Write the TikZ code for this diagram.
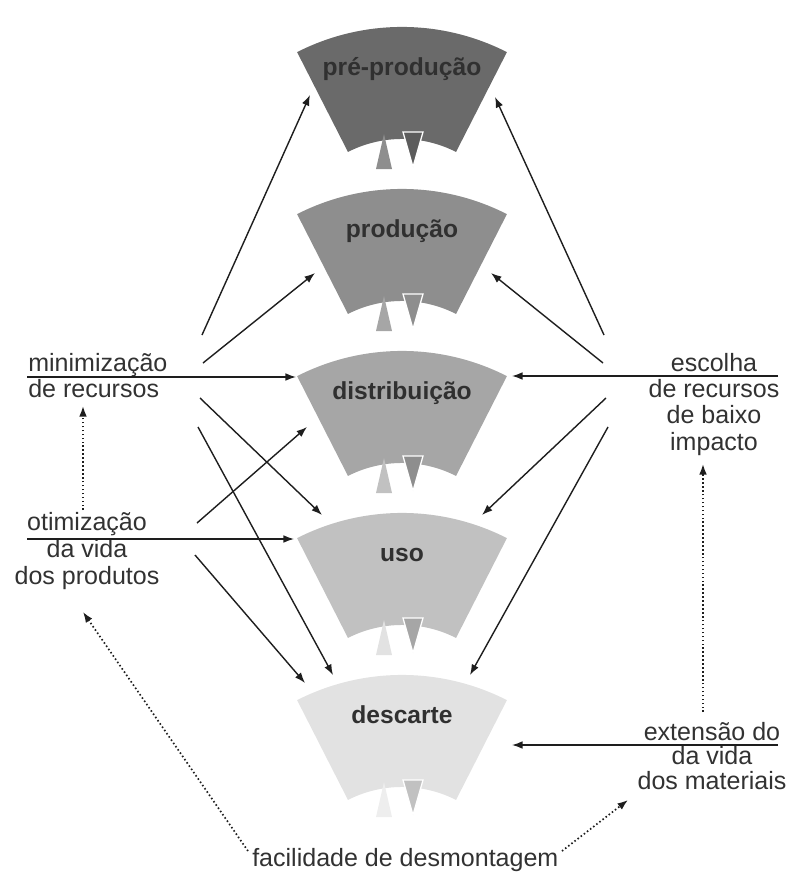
\documentclass[tikz,border=0pt]{standalone}
\usepackage{fontspec}
\setmainfont{Liberation Sans}
\usetikzlibrary{arrows.meta,calc}
\definecolor{segA}{RGB}{106,106,106}
\definecolor{segAdark}{RGB}{92,92,92}
\definecolor{segB}{RGB}{142,142,142}
\definecolor{segC}{RGB}{166,166,166}
\definecolor{segD}{RGB}{193,193,193}
\definecolor{segE}{RGB}{226,226,226}
\definecolor{segF}{RGB}{238,238,238}
\definecolor{labelgray}{RGB}{48,48,48}
\definecolor{textgray}{RGB}{50,50,50}
\definecolor{linegray}{RGB}{30,30,30}
\begin{document}
\begin{tikzpicture}[x=0.025cm,y=-0.025cm,
    seglabel/.style={font=\fontsize{17.5}{20}\selectfont\bfseries, text=labelgray, inner sep=0pt},
    sidetext/.style={font=\fontsize{17.8}{17.8}\selectfont, text=textgray, inner sep=0pt, align=center},
    flow/.style={line width=1pt, draw=linegray, -{Latex[length=7.5pt,width=5.5pt]}},
    hint/.style={flow, line width=1.2pt, dash pattern=on 1.1pt off 1.7pt},
    dntri/.style={draw=white, line width=0.9pt}]
                \useasboundingbox (0.000000,0.000000) rectangle (792.000000,874.000000);
                {
                
                % Drawing sector pre-producao
                \fill [segA] ($(402.000000,258.000000)+(117:5.775cm)$) arc [start angle=117, end angle=63, radius=5.775cm] -- ($(402.000000,258.000000)+(63:2.975cm)$) arc [start angle=63, end angle=117, radius=2.975cm] -- cycle;%
                \fill [segB] (384.000000,134.000000) -- (392.000000,169.000000) -- (376.000000,169.000000) -- cycle;%
                \filldraw [dntri, fill=segAdark] (403.000000,132.000000) -- (423.000000,132.000000) -- (413.000000,167.000000) -- cycle;%
                \draw (402.000000,75.000000) node [seglabel, anchor=base] (pre) {pré-produção};%
                
                % Drawing sector producao
                \fill [segB] ($(402.000000,420.000000)+(117:5.775cm)$) arc [start angle=117, end angle=63, radius=5.775cm] -- ($(402.000000,420.000000)+(63:2.975cm)$) arc [start angle=63, end angle=117, radius=2.975cm] -- cycle;%
                \fill [segC] (384.000000,296.000000) -- (392.000000,331.000000) -- (376.000000,331.000000) -- cycle;%
                \filldraw [dntri, fill=segB] (403.000000,294.000000) -- (423.000000,294.000000) -- (413.000000,329.000000) -- cycle;%
                \draw (402.000000,237.000000) node [seglabel, anchor=base] (prod) {produção};%
                
                % Drawing sector distribuicao
                \fill [segC] ($(402.000000,582.000000)+(117:5.775cm)$) arc [start angle=117, end angle=63, radius=5.775cm] -- ($(402.000000,582.000000)+(63:2.975cm)$) arc [start angle=63, end angle=117, radius=2.975cm] -- cycle;%
                \fill [segD] (384.000000,458.000000) -- (392.000000,493.000000) -- (376.000000,493.000000) -- cycle;%
                \filldraw [dntri, fill=segB] (403.000000,456.000000) -- (423.000000,456.000000) -- (413.000000,491.000000) -- cycle;%
                \draw (402.000000,399.000000) node [seglabel, anchor=base] (dist) {distribuição};%
                
                % Drawing sector uso
                \fill [segD] ($(402.000000,744.000000)+(117:5.775cm)$) arc [start angle=117, end angle=63, radius=5.775cm] -- ($(402.000000,744.000000)+(63:2.975cm)$) arc [start angle=63, end angle=117, radius=2.975cm] -- cycle;%
                \fill [segE] (384.000000,620.000000) -- (392.000000,655.000000) -- (376.000000,655.000000) -- cycle;%
                \filldraw [dntri, fill=segC] (403.000000,618.000000) -- (423.000000,618.000000) -- (413.000000,653.000000) -- cycle;%
                \draw (402.000000,561.000000) node [seglabel, anchor=base] (uso) {uso};%
                
                % Drawing sector descarte
                \fill [segE] ($(402.000000,906.000000)+(117:5.775cm)$) arc [start angle=117, end angle=63, radius=5.775cm] -- ($(402.000000,906.000000)+(63:2.975cm)$) arc [start angle=63, end angle=117, radius=2.975cm] -- cycle;%
                \fill [segF] (384.000000,782.000000) -- (392.000000,817.000000) -- (376.000000,817.000000) -- cycle;%
                \filldraw [dntri, fill=segD] (403.000000,780.000000) -- (423.000000,780.000000) -- (413.000000,815.000000) -- cycle;%
                \draw (402.000000,723.000000) node [seglabel, anchor=base] (desc) {descarte};%
                
                % Marking strategy texts (base is the last line)
                \draw (28.000000,397.000000) node [sidetext, align=left, anchor=base west] (minrec) {minimização\\de recursos};%
                \draw (87.000000,584.000000) node [sidetext, font=\fontsize{17.8}{19.2}\selectfont, anchor=base] (otivida) {otimização\\da vida\\dos produtos};%
                \draw (714.000000,450.000000) node [sidetext, font=\fontsize{17.8}{18.6}\selectfont, anchor=base] (escolha) {escolha\\de recursos\\de baixo\\impacto};%
                \draw (712.000000,789.000000) node [sidetext, font=\fontsize{17.8}{17.4}\selectfont, anchor=base] (extvida) {extensão do\\da vida\\dos materiais};%
                \draw (252.000000,866.000000) node [sidetext, anchor=base west] (facil) {facilidade de desmontagem};%
                
                % Marking arrow ends on the sectors
                \coordinate (preL) at (310.000000,95.000000);%
                \coordinate (preR) at (495.000000,97.000000);%
                \coordinate (prodL) at (315.000000,273.000000);%
                \coordinate (prodR) at (491.000000,273.000000);%
                \coordinate (distL) at (296.000000,377.000000);%
                \coordinate (distLL) at (307.000000,427.000000);%
                \coordinate (distR) at (512.000000,376.000000);%
                \coordinate (usoL) at (294.000000,539.000000);%
                \coordinate (usoLL) at (322.000000,515.000000);%
                \coordinate (usoR) at (482.000000,515.000000);%
                \coordinate (descL) at (305.000000,683.000000);%
                \coordinate (descLL) at (333.000000,675.000000);%
                \coordinate (descR) at (470.000000,675.000000);%
                \coordinate (descRR) at (512.000000,745.000000);%
                
                % Marking arrow starts near the texts
                \coordinate (minA) at (202.000000,335.000000);%
                \coordinate (minB) at (203.000000,363.000000);%
                \coordinate (minC) at (200.000000,398.000000);%
                \coordinate (minD) at (198.000000,427.000000);%
                \coordinate (minE) at (27.000000,377.000000);%
                \coordinate (minF) at (83.000000,406.000000);%
                \coordinate (otiA) at (197.000000,523.000000);%
                \coordinate (otiB) at (195.000000,555.000000);%
                \coordinate (otiC) at (27.000000,539.000000);%
                \coordinate (otiD) at (83.000000,510.000000);%
                \coordinate (otiE) at (83.000000,612.000000);%
                \coordinate (escA) at (604.000000,335.000000);%
                \coordinate (escB) at (603.000000,363.000000);%
                \coordinate (escC) at (606.000000,398.000000);%
                \coordinate (escD) at (608.000000,427.000000);%
                \coordinate (escE) at (778.000000,376.000000);%
                \coordinate (escF) at (703.000000,464.000000);%
                \coordinate (extA) at (778.000000,745.000000);%
                \coordinate (extB) at (703.000000,712.000000);%
                \coordinate (extC) at (628.000000,800.000000);%
                \coordinate (facA) at (248.000000,851.000000);%
                \coordinate (facB) at (562.000000,851.000000);%
                
                % Drawing arrows from minimizacao de recursos
                \draw [flow] (minA) -- (preL);%
                \draw [flow] (minB) -- (prodL);%
                \draw [flow] (minE) -- (distL);%
                \draw [flow] (minC) -- (usoLL);%
                \draw [flow] (minD) -- (descLL);%
                
                % Drawing arrows from otimizacao da vida
                \draw [flow] (otiA) -- (distLL);%
                \draw [flow] (otiC) -- (usoL);%
                \draw [flow] (otiB) -- (descL);%
                
                % Drawing arrows from escolha de recursos
                \draw [flow] (escA) -- (preR);%
                \draw [flow] (escB) -- (prodR);%
                \draw [flow] (escE) -- (distR);%
                \draw [flow] (escC) -- (usoR);%
                \draw [flow] (escD) -- (descR);%
                
                % Drawing arrow from extensao da vida
                \draw [flow] (extA) -- (descRR);%
                
                % Drawing dotted links between the strategies
                \draw [hint] (otiD) -- (minF);%
                \draw [hint] (extB) -- (escF);%
                \draw [hint] (facA) -- (otiE);%
                \draw [hint] (facB) -- (extC);%
                }
            \end{tikzpicture}
\end{document}
